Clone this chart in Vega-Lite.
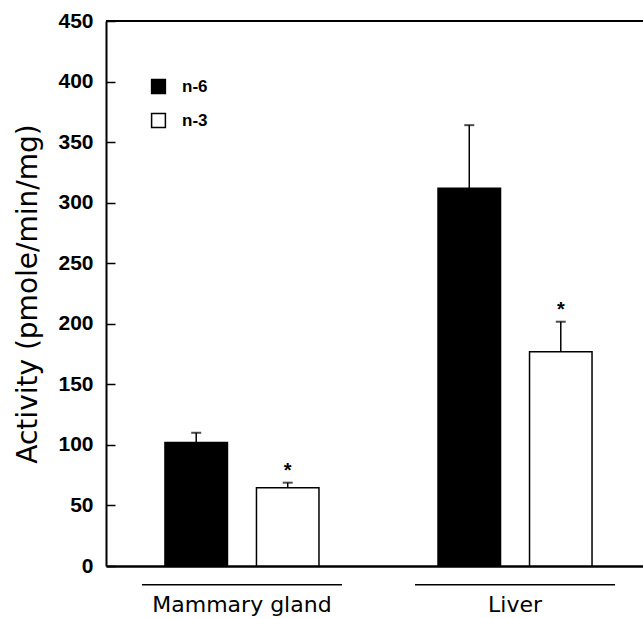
{
  "$schema": "https://vega.github.io/schema/vega-lite/v6.json",
  "width": 537,
  "height": 545,
  "autosize": {"type": "none"},
  "padding": {"left": 106, "top": 21, "right": 0, "bottom": 52},
  "background": "white",
  "config": {"view": {"stroke": null}, "font": "Liberation Sans"},
  "data": {
    "values": [
      {"tissue": "Mammary gland", "diet": "n-6", "value": 102, "hi": 110, "sig": ""},
      {"tissue": "Mammary gland", "diet": "n-3", "value": 64.6, "hi": 68.8, "sig": "*"},
      {"tissue": "Liver", "diet": "n-6", "value": 312, "hi": 364, "sig": ""},
      {"tissue": "Liver", "diet": "n-3", "value": 177, "hi": 201.7, "sig": "*"}
    ]
  },
  "layer": [
    {
      "mark": {"type": "rule", "color": "black", "strokeWidth": 2},
      "encoding": {"y": {"datum": 450, "type": "quantitative"}}
    },
    {
      "mark": {"type": "bar", "stroke": "black", "strokeWidth": 1.5},
      "encoding": {
        "x": {
          "field": "tissue", "type": "nominal", "sort": ["Mammary gland", "Liver"],
          "scale": {"paddingInner": 0.2674, "paddingOuter": 0.117, "align": 0.5625},
          "axis": {
            "title": null, "ticks": false, "labelAngle": 0, "labelFont": "DejaVu Sans",
            "labelFontSize": 22, "labelColor": "black", "labelPadding": 28, "labelLimit": 0,
            "labelBaseline": "top", "domainColor": "black", "domainWidth": 2.5
          }
        },
        "xOffset": {"field": "diet", "type": "nominal", "sort": ["n-6", "n-3"], "scale": {"paddingInner": 0.317, "paddingOuter": 0.2515}},
        "y": {
          "field": "value", "type": "quantitative", "scale": {"domain": [0, 450], "nice": false},
          "axis": {
            "title": "Activity (pmole/min/mg)", "titleFont": "DejaVu Sans", "titleFontSize": 28,
            "titleFontWeight": "normal", "titleColor": "black", "titlePadding": 15,
            "values": [0, 50, 100, 150, 200, 250, 300, 350, 400, 450],
            "grid": false, "tickSize": -9, "tickColor": "black", "tickWidth": 1.5,
            "labelPadding": 22, "labelFontSize": 21, "labelFontWeight": "bold",
            "labelColor": "black", "labelFont": "Liberation Sans",
            "domainColor": "black", "domainWidth": 2
          }
        },
        "fill": {
          "field": "diet", "type": "nominal", "sort": ["n-6", "n-3"],
          "scale": {"domain": ["n-6", "n-3"], "range": ["black", "white"]},
          "legend": {
            "title": null, "orient": "none", "legendX": 44, "legendY": 57,
            "symbolType": "square", "symbolSize": 190, "symbolStrokeColor": "black",
            "symbolStrokeWidth": 1.5, "labelFontSize": 17, "labelFontWeight": "bold",
            "labelFont": "Liberation Sans", "labelColor": "black", "labelOffset": 15,
            "rowPadding": 13, "padding": 0
          }
        }
      }
    },
    {
      "mark": {"type": "rule", "color": "black", "strokeWidth": 1.5},
      "encoding": {
        "x": {"field": "tissue", "type": "nominal", "sort": ["Mammary gland", "Liver"]},
        "xOffset": {"field": "diet", "type": "nominal", "sort": ["n-6", "n-3"]},
        "y": {"field": "value", "type": "quantitative"},
        "y2": {"field": "hi"}
      }
    },
    {
      "mark": {"type": "tick", "color": "black", "thickness": 2, "size": 10},
      "encoding": {
        "x": {"field": "tissue", "type": "nominal", "sort": ["Mammary gland", "Liver"]},
        "xOffset": {"field": "diet", "type": "nominal", "sort": ["n-6", "n-3"]},
        "y": {"field": "hi", "type": "quantitative"}
      }
    },
    {
      "transform": [{"filter": "datum.sig != ''"}],
      "mark": {"type": "text", "fontSize": 20, "fontWeight": "bold", "baseline": "alphabetic", "dy": -6, "color": "black"},
      "encoding": {
        "x": {"field": "tissue", "type": "nominal", "sort": ["Mammary gland", "Liver"]},
        "xOffset": {"field": "diet", "type": "nominal", "sort": ["n-6", "n-3"]},
        "y": {"field": "hi", "type": "quantitative"},
        "text": {"field": "sig"}
      }
    },
    {
      "data": {"values": [{"tissue": "Mammary gland"}, {"tissue": "Liver"}]},
      "mark": {"type": "bar", "color": "black"},
      "encoding": {
        "x": {"field": "tissue", "type": "nominal", "sort": ["Mammary gland", "Liver"]},
        "y": {"datum": -14.8, "type": "quantitative"},
        "y2": {"datum": -16}
      }
    }
  ]
}
